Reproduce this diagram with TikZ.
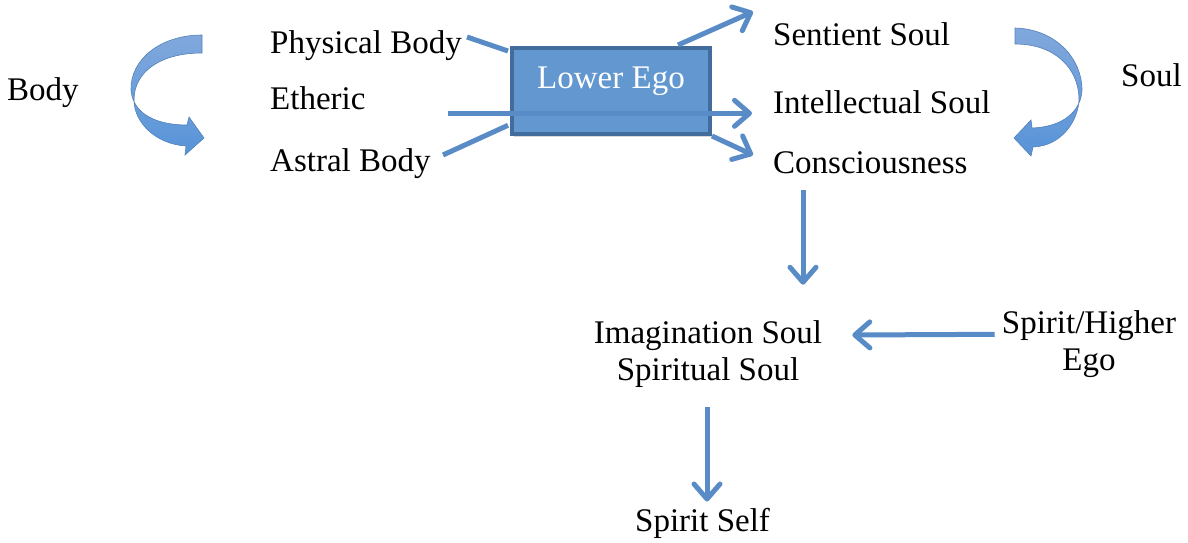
\documentclass[tikz,border=0pt]{standalone}
\usepackage{fontspec}
\setmainfont{Liberation Serif}
\usetikzlibrary{arrows.meta,shadows}
\definecolor{egofill}{RGB}{98,151,207}
\definecolor{egoline}{RGB}{66,108,156}
\definecolor{linkblue}{RGB}{89,140,198}
\definecolor{bendtop}{RGB}{128,168,220}
\definecolor{bendbot}{RGB}{88,148,216}
\definecolor{bendline}{RGB}{84,128,186}

\begin{document}
\begin{tikzpicture}[x=1pt, y=-1pt, font=\fontsize{33}{37}\selectfont,
 tag/.style={anchor=west, inner sep=0pt, text height=23pt, text depth=7pt},
 stacktag/.style={align=center, inner sep=0pt},
 egobox/.style={draw=egoline, line width=4pt, fill=egofill, text=white, minimum width=198pt, minimum height=86pt, inner sep=0pt, text height=23pt, text depth=29pt, drop shadow={opacity=0.3, shadow xshift=2pt, shadow yshift=-3pt}},
 flowline/.style={draw=linkblue, line width=5pt},
 pointer/.style={flowline, -{Straight Barb[length=15pt, width=26pt, round]}},
 curvearrow/.style={top color=bendtop, bottom color=bendbot, draw=bendline, line width=0.6pt}]
\useasboundingbox (0,0) rectangle (1188,542);

% curved arrows
\path[curvearrow] (202,35) .. controls (160,35) and (130,60) .. (131,90) .. controls (133,115) and (158,125) .. (187,125)
 -- (189,117) -- (204,138) -- (185,155) -- (186,146) .. controls (155,144) and (134,122) .. (134,100)
 .. controls (134,72) and (160,53) .. (202,53) -- cycle;
\path[curvearrow] (1015,28) .. controls (1055,29) and (1082,58) .. (1082,90) .. controls (1081,112) and (1062,127) .. (1032,128)
 -- (1031,120) -- (1014,138) -- (1031,156) -- (1033,147) .. controls (1062,146) and (1079,120) .. (1079,98)
 .. controls (1078,68) and (1055,44) .. (1015,44) -- cycle;

\node[tag] (body) at (7,92) {Body};
\node[tag] (phys) at (270,45.3) {Physical Body};
\node[tag] (eth) at (270,101.3) {Etheric};
\node[tag] (astral) at (270,163.7) {Astral Body};
\node[egobox] (ego) at (611,91) {Lower Ego};
\node[tag] (sent) at (773,37) {Sentient Soul};
\node[tag] (intel) at (773,105.3) {Intellectual Soul};
\node[tag] (consc) at (773,165.3) {Consciousness};
\node[tag] (soul) at (1121,78.7) {Soul};
\node[stacktag] (imag) at (708,354.2) {Imagination Soul\\Spiritual Soul};
\node[stacktag] (spirit) at (1089,344) {Spirit/Higher\\Ego};
\node[tag] (self) at (635,523.7) {Spirit Self};

\draw[flowline] ([xshift=197pt,yshift=8.3pt]phys.west) -- ([xshift=-2pt,yshift=-5pt]ego.north west);
\draw[flowline] ([xshift=173pt,yshift=8.7pt]astral.west) -- ([xshift=-2pt,yshift=10.7pt]ego.south west);
\draw[pointer] ([xshift=178pt,yshift=-12pt]eth.west) -- ([xshift=-21pt,yshift=-8pt]intel.west);
\draw[pointer] ([xshift=67pt,yshift=1pt]ego.north) -- ([xshift=-20pt,yshift=25.3pt]sent.west);
\draw[pointer] (ego.south east) -- ([xshift=-20pt,yshift=10.3pt]consc.west);
\draw[pointer] ([xshift=30pt,yshift=-9.7pt]consc.south west) -- ([xshift=95pt,yshift=35.8pt]imag.north);
\draw[pointer] ([xshift=-7pt,yshift=9.7pt]spirit.west) -- ([xshift=30pt,yshift=19.2pt]imag.east);
\draw[pointer] ([xshift=-1pt,yshift=-19.2pt]imag.south) -- ([xshift=72pt,yshift=7pt]self.north west);
\end{tikzpicture}
\end{document}
